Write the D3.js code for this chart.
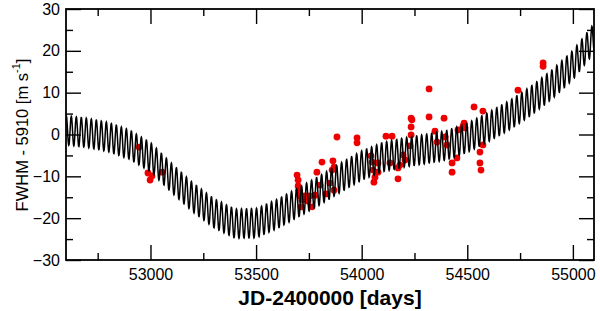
<!DOCTYPE html>
<html><head><meta charset="utf-8">
<script src="https://cdn.jsdelivr.net/npm/d3@7"></script>
<style>
body{margin:0;background:#fff}
text{font-family:"Liberation Sans",Arial,Helvetica,sans-serif;fill:#000}
</style>
</head><body>
<svg id="chart" width="600" height="311"></svg>
<script>
// Observed FWHM values (JD-2400000, m/s)
const obsDays = [52946,52988,52998,53007,53055,
  53694,53699,53699,53703,53708,53713,53717,53732,53746,53755,53765,53779,53788,53803,53812,53831,53850,53860,53864,53869,53869,53883,
  53978,53978,54044,54049,54054,54063,54058,54077,54077,
  54115,54144,54134,54172,54172,54181,54196,54205,54229,54234,54234,54238,54234,
  54319,54319,54347,54357,54390,54395,54404,54428,54428,54451,54456,54480,54485,54489,54532,54560,54560,54565,54574,54574,
  54740,54859,54859];
const obsFwhm = [-3.0,-9.2,-10.9,-9.9,-9.0,
  -9.7,-10.9,-12.3,-13.3,-14.7,-17.3,-15.7,-14.7,-15.9,-14.7,-17.3,-14.5,-9.0,-12.1,-6.6,-14.2,-11.6,-8.5,-6.3,-7.8,-13.3,-0.6,
  -0.8,-2.0,-5.1,-6.6,-8.5,-10.2,-11.4,-9.0,-6.8,
  -0.4,-0.4,-6.8,-8.0,-10.6,-7.3,-4.9,-6.1,-2.7,-0.1,1.8,3.5,3.9,
  10.9,4.2,0.8,-1.8,3.9,-0.6,-2.5,-6.8,-9.0,-5.6,1.1,2.0,2.7,1.6,6.6,-4.2,-6.8,-8.5,5.6,-2.5,
  10.6,16.3,17.1];

const modelDays  = [52600,52700,52800,52900,53000,53100,53200,53300,53400,53500,53600,53700,53800,53900,54000,54100,54200,54300,54400,54500,54600,54700,54800,54900,55000,55100];
const modelTrend = [1.0,0.4,-0.6,-2.4,-5.4,-10.4,-15.0,-18.8,-21.3,-21.2,-19.0,-16.2,-13.4,-10.3,-7.4,-5.4,-4.3,-3.5,-2.6,-0.8,1.8,4.6,8.0,11.9,16.6,23.0];
const modelAmplitude = 3.5;
const modelPeriod = 23.7;

const xMajor = [53000,53500,54000,54500,55000];
const xMinor = [52750,53250,53750,54250,54750];
const yMajor = [-30,-20,-10,0,10,20,30];
const yMinor = [-25,-15,-5,5,15,25];

const L = 66, R = 594, T = 9, B = 260;
const svg = d3.select("#chart");
const x = d3.scaleLinear().domain([52600,55100]).range([L,R]);
const y = d3.scaleLinear().domain([-30,30]).range([B,T]);

svg.append("defs").append("clipPath").attr("id","clip")
  .append("rect").attr("x",L).attr("y",T).attr("width",R-L).attr("height",B-T);

// points
svg.append("g").attr("clip-path","url(#clip)").selectAll("circle")
  .data(obsDays.map((d,i)=>[d,obsFwhm[i]]))
  .join("circle")
  .attr("cx",d=>x(d[0])).attr("cy",d=>y(d[1])).attr("r",3.4)
  .attr("fill","#ee0000");

// model
const trend = d3.scaleLinear().domain(modelDays).range(modelTrend);
const samples = d3.range(52600,55100.5,1);
const line = d3.line().x(d=>x(d)).y(d=>y(trend(d)+modelAmplitude*Math.sin(2*Math.PI*(d-52600)/modelPeriod+1.2)));
svg.append("path").attr("clip-path","url(#clip)").datum(samples)
  .attr("d",line).attr("fill","none").attr("stroke","#000").attr("stroke-width",1.5);

// axes
function styleAxis(g){ g.select(".domain").remove(); g.selectAll("line").attr("stroke","#000").attr("stroke-width",1.4); g.selectAll("text").attr("font-size",16).attr("font-family","Liberation Sans, Arial, sans-serif"); }
svg.append("g").attr("transform",`translate(0,${B})`)
  .call(d3.axisBottom(x).tickValues(xMajor).tickSize(-15).tickPadding(9).tickFormat(d3.format("d"))).call(styleAxis);
svg.append("g").attr("transform",`translate(0,${B})`)
  .call(d3.axisBottom(x).tickValues(xMinor).tickSize(-7).tickFormat("")).call(styleAxis);
svg.append("g").attr("transform",`translate(0,${T})`)
  .call(d3.axisTop(x).tickValues(xMajor).tickSize(-15).tickFormat("")).call(styleAxis);
svg.append("g").attr("transform",`translate(0,${T})`)
  .call(d3.axisTop(x).tickValues(xMinor).tickSize(-7).tickFormat("")).call(styleAxis);
svg.append("g").attr("transform",`translate(${L},0)`)
  .call(d3.axisLeft(y).tickValues(yMajor).tickSize(-15).tickPadding(6).tickFormat(d3.format("d"))).call(styleAxis);
svg.append("g").attr("transform",`translate(${L},0)`)
  .call(d3.axisLeft(y).tickValues(yMinor).tickSize(-7).tickFormat("")).call(styleAxis);
svg.append("g").attr("transform",`translate(${R},0)`)
  .call(d3.axisRight(y).tickValues(yMajor).tickSize(-15).tickFormat("")).call(styleAxis);
svg.append("g").attr("transform",`translate(${R},0)`)
  .call(d3.axisRight(y).tickValues(yMinor).tickSize(-7).tickFormat("")).call(styleAxis);

svg.append("rect").attr("x",L).attr("y",T).attr("width",R-L).attr("height",B-T)
  .attr("fill","none").attr("stroke","#000").attr("stroke-width",1.8);

// titles
svg.append("text").attr("x",(L+R)/2).attr("y",305).attr("text-anchor","middle")
  .attr("font-size",21).attr("font-weight","bold").text("JD-2400000 [days]");
const yt = svg.append("text").attr("transform","translate(28,135) rotate(-90)")
  .attr("text-anchor","middle").attr("font-size",16.5);
yt.append("tspan").text("FWHM - 5910 [m s");
yt.append("tspan").attr("font-size",11).attr("dy","-0.7em").text("-1");
yt.append("tspan").attr("dy","0.45em").text("]");
</script>
</body></html>
